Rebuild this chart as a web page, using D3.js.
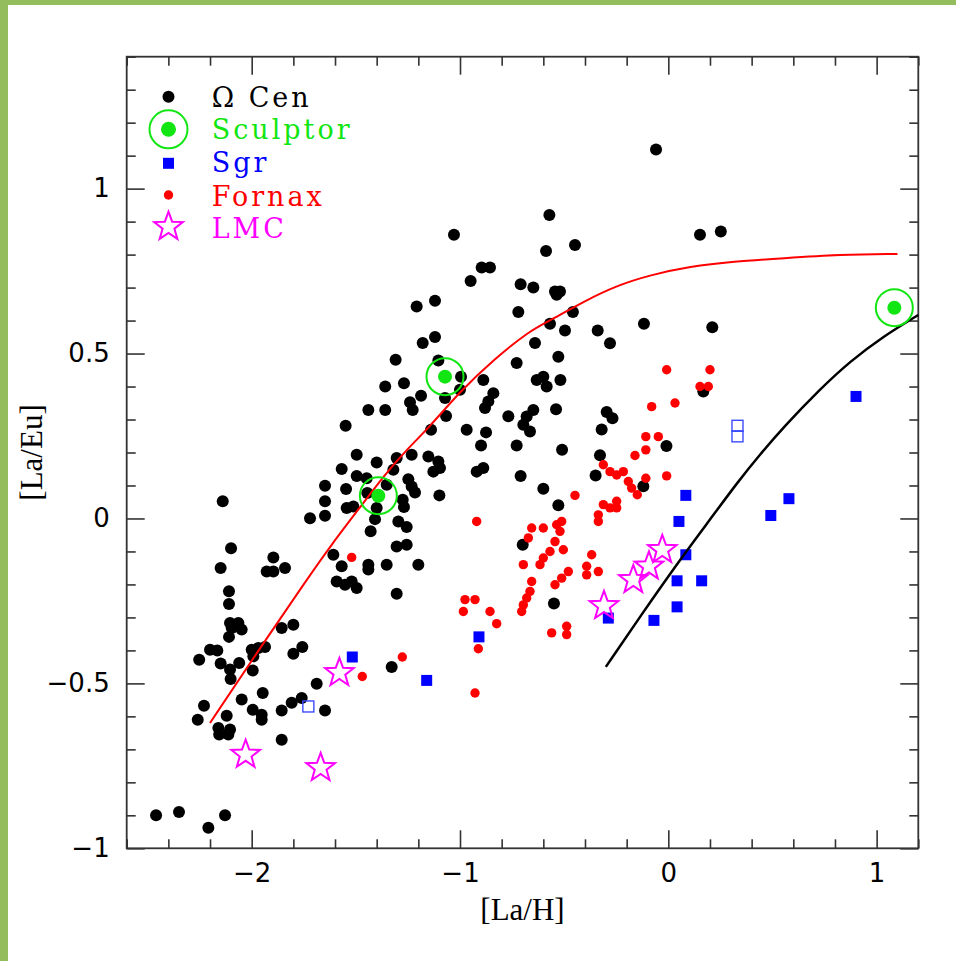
<!DOCTYPE html>
<html>
<head>
<meta charset="utf-8">
<script src="https://cdn.jsdelivr.net/npm/d3@7"></script>
<style>
  html, body { margin: 0; padding: 0; background: #fff; }
  svg { display: block; }
</style>
</head>
<body>
<svg id="chart" width="956" height="961"></svg>
<script>
// ---- data: [La/H], [La/Eu] ----
const omegaCen = [
  [-0.059,1.119],[-1.029,0.860],[-0.571,0.920],[0.152,0.860],[0.252,0.870],[-0.448,0.829],[-0.587,0.811],[-0.896,0.761],[-0.856,0.761],[-0.949,0.720],
  [-0.709,0.710],[-0.648,0.700],[-0.544,0.688],[-0.520,0.688],[-0.536,0.678],[-1.120,0.660],[-1.208,0.643],[-0.720,0.626],[-0.458,0.626],[-0.568,0.590],
  [-0.496,0.570],[-0.339,0.570],[-0.117,0.590],[0.211,0.580],[-0.280,0.531],[-1.120,0.550],[-1.179,0.532],[-0.640,0.532],[-0.528,0.490],[-1.309,0.481],
  [-1.104,0.479],[-0.728,0.471],[-0.995,0.430],[-1.000,0.390],[-0.888,0.420],[-0.840,0.380],[-0.864,0.355],[-0.880,0.335],[-0.632,0.420],[-0.600,0.430],
  [-0.584,0.400],[-0.518,0.420],[-1.269,0.410],[-1.359,0.400],[-1.187,0.372],[-1.240,0.352],[-1.227,0.329],[-1.440,0.329],[-1.359,0.329],[-1.072,0.365],
  [-1.067,0.311],[-0.768,0.310],[-0.539,0.331],[-0.680,0.309],[-0.648,0.329],[-0.696,0.284],[-0.664,0.264],[-0.296,0.323],[-0.268,0.304],[-0.320,0.270],
  [0.168,0.385],[-1.549,0.281],[-1.139,0.269],[-0.968,0.269],[-0.875,0.261],[-0.899,0.221],[-0.728,0.221],[-0.510,0.208],[-0.009,0.220],[-0.328,0.192],
  [-1.496,0.193],[-1.400,0.170],[-1.304,0.183],[-1.232,0.193],[-1.152,0.188],[-1.104,0.173],[-1.096,0.153],[-1.128,0.142],[-1.568,0.150],[-1.496,0.129],
  [-1.320,0.148],[-1.448,0.122],[-0.920,0.142],[-0.888,0.153],[-0.709,0.129],[-0.349,0.130],[-0.120,0.098],[-1.648,0.099],[-1.547,0.089],[-1.352,0.102],
  [-1.445,0.077],[-1.248,0.119],[-1.232,0.097],[-1.216,0.079],[-1.099,0.070],[-0.600,0.090],[-0.528,0.040],[-1.275,0.057],[-1.269,0.035],[-1.648,0.052],
  [-1.544,0.032],[-1.512,0.036],[-1.400,0.032],[-1.648,0.008],[-1.720,0.001],[-1.408,-0.002],[-1.296,-0.009],[-1.256,-0.026],[-1.429,-0.039],[-2.139,0.052],
  [-1.304,-0.085],[-1.256,-0.080],[-2.099,-0.090],[-0.699,-0.080],[-1.896,-0.118],[-1.608,-0.110],[-2.149,-0.150],[-1.928,-0.161],[-1.896,-0.161],[-1.840,-0.150],
  [-1.568,-0.145],[-1.440,-0.140],[-1.440,-0.155],[-1.352,-0.140],[-1.200,-0.140],[-1.592,-0.191],[-1.552,-0.201],[-1.520,-0.191],[-1.496,-0.211],[-1.304,-0.228],
  [-0.549,-0.258],[-2.109,-0.221],[-2.109,-0.259],[-2.104,-0.317],[-2.064,-0.317],[-2.096,-0.332],[-2.048,-0.337],[-2.109,-0.359],[-1.856,-0.332],[-1.800,-0.322],
  [-2.200,-0.398],[-2.165,-0.400],[-2.000,-0.398],[-1.968,-0.393],[-1.936,-0.390],[-2.252,-0.428],[-2.149,-0.440],[-2.060,-0.438],[-2.104,-0.458],[-1.992,-0.418],
  [-1.995,-0.461],[-2.101,-0.487],[-1.800,-0.410],[-1.757,-0.390],[-1.688,-0.501],[-1.328,-0.450],[-2.048,-0.549],[-1.947,-0.529],[-2.229,-0.568],[-1.995,-0.580],
  [-1.952,-0.595],[-1.952,-0.610],[-1.856,-0.582],[-1.808,-0.559],[-1.760,-0.544],[-1.648,-0.582],[-2.120,-0.598],[-2.259,-0.610],[-2.160,-0.635],[-2.104,-0.640],
  [-2.156,-0.655],[-2.112,-0.655],[-1.856,-0.671],[-2.459,-0.900],[-2.349,-0.890],[-2.208,-0.938],[-2.128,-0.900]
];

const sculptor = [[-1.392,0.069],[-1.072,0.430],[1.085,0.639]];

const sgr = [
  [-1.517,-0.420],[-1.160,-0.491],[-0.909,-0.359],[-0.288,-0.302],[-0.069,-0.309],[0.042,-0.268],[0.042,-0.189],
  [0.160,-0.189],[0.084,-0.110],[0.051,-0.009],[0.084,0.070],[0.492,0.009],[0.579,0.060],[0.901,0.370]
];
// Sgr stars plotted with open symbols
const sgrOpen = [[-1.728,-0.570],[0.332,0.281],[0.332,0.249]];

const fornax = [
  [-1.520,-0.118],[-1.469,-0.479],[-1.277,-0.420],[-0.920,-0.009],[-0.976,-0.246],[-0.928,-0.246],[-0.984,-0.282],[-0.856,-0.282],
  [-0.824,-0.319],[-0.912,-0.395],[-0.928,-0.529],[-0.656,-0.029],[-0.600,-0.029],[-0.672,-0.059],[-0.536,-0.019],[-0.512,-0.009],
  [-0.520,-0.039],[-0.544,-0.070],[-0.568,-0.100],[-0.504,-0.095],[-0.600,-0.120],[-0.616,-0.140],[-0.696,-0.140],[-0.368,-0.110],
  [-0.392,-0.145],[-0.392,-0.171],[-0.336,-0.161],[-0.480,-0.161],[-0.512,-0.181],[-0.544,-0.201],[-0.656,-0.191],[-0.664,-0.221],
  [-0.680,-0.241],[-0.696,-0.262],[-0.704,-0.282],[-0.560,-0.347],[-0.488,-0.327],[-0.488,-0.352],[-0.008,0.451],[0.200,0.451],
  [0.152,0.400],[0.192,0.400],[-0.080,0.339],[0.032,0.350],[-0.108,0.248],[-0.048,0.248],[-0.108,0.208],[-0.160,0.191],
  [-0.312,0.163],[-0.280,0.142],[-0.248,0.132],[-0.216,0.142],[-0.192,0.112],[-0.176,0.092],[-0.149,0.072],[-0.108,0.122],
  [-0.008,0.129],[-0.448,0.070],[-0.312,0.042],[-0.248,0.052],[-0.280,0.032],[-0.248,0.032],[-0.336,0.011],[-0.336,-0.009]
];

const lmc = [[-2.029,-0.716],[-1.669,-0.756],[-1.579,-0.468],[-0.309,-0.265],[-0.168,-0.186],[-0.093,-0.145],[-0.029,-0.095]];

// model curves
const redModel = [
  [-2.2,-0.62],[-1.944,-0.378],[-1.736,-0.186],[-1.624,-0.085],[-1.464,0.047],[-1.368,0.127],[-1.272,0.198],[-1.144,0.279],
  [-1.0,0.385],[-0.84,0.481],[-0.664,0.57],[-0.568,0.6],[-0.4,0.66],[-0.248,0.706],[-0.088,0.738],[0.104,0.764],
  [0.312,0.779],[0.552,0.789],[0.824,0.8],[1.1,0.802]
];
const blackModel = [
  [-0.3,-0.45],[-0.135,-0.297],[0.056,-0.125],[0.21,0.005],[0.33,0.108],[0.444,0.197],[0.552,0.276],[0.728,0.392],
  [0.872,0.476],[1.032,0.552],[1.2,0.617]
];

const seriesNames = ["\u03A9 Cen", "Sculptor", "Sgr", "Fornax", "LMC"];
const xMajorTicks = [-2, -1, 0, 1];
const xTickLabels = ["\u22122", "\u22121", "0", "1"];
const yMajorTicks = [1, 0.5, 0, -0.5, -1];
const yTickLabels = ["1", "0.5", "0", "\u22120.5", "\u22121"];
const xTitle = "[La/H]";
const yTitle = "[La/Eu]";

// ---- layout ----
const svg = d3.select("#chart");
const plotLeft = 126.7, plotRight = 918.3, plotTop = 56.7, plotBottom = 848.3;
const x = d3.scaleLinear().domain([-2.6, 1.2]).range([plotLeft, plotRight]);
const y = d3.scaleLinear().domain([-1, 1.4]).range([plotBottom, plotTop]);

const GREEN = "#12e612", BLUE = "#0000ff", RED = "#ff0000", MAG = "#ff00ff";

svg.append("rect").attr("width", 956).attr("height", 961).attr("fill", "#fff");
svg.append("rect").attr("x", 0).attr("y", 0).attr("width", 956).attr("height", 5).attr("fill", "#94bd5e");
svg.append("rect").attr("x", 0).attr("y", 0).attr("width", 8).attr("height", 961).attr("fill", "#94bd5e");

// ---- axes (ticks point inward on all four sides) ----
const xMinor = d3.range(-2.6, 1.2001, 0.2).map(v => +v.toFixed(2)).filter(v => !xMajorTicks.some(m => Math.abs(m - v) < 1e-6));
const yMinor = d3.range(-1, 1.4001, 0.1).map(v => +v.toFixed(2)).filter(v => !yMajorTicks.some(m => Math.abs(m - v) < 1e-6));

function styleAxis(g) {
  g.select(".domain").remove();
  g.selectAll(".tick line").attr("stroke", "#333").attr("stroke-width", 1.6);
  g.selectAll("text").attr("fill", "#000").attr("font-family", "DejaVu Sans").attr("font-size", 26);
}

const gx = svg.append("g").attr("transform", `translate(0,${plotBottom})`)
  .call(d3.axisBottom(x).tickValues(xMajorTicks).tickSize(-18).tickPadding(15)
        .tickFormat((d, i) => xTickLabels[i]));
styleAxis(gx);
styleAxis(svg.append("g").attr("transform", `translate(0,${plotBottom})`)
  .call(d3.axisBottom(x).tickValues(xMinor).tickSize(-9).tickFormat("")));
styleAxis(svg.append("g").attr("transform", `translate(0,${plotTop})`)
  .call(d3.axisTop(x).tickValues(xMajorTicks).tickSize(-18).tickFormat("")));
styleAxis(svg.append("g").attr("transform", `translate(0,${plotTop})`)
  .call(d3.axisTop(x).tickValues(xMinor).tickSize(-9).tickFormat("")));

const gy = svg.append("g").attr("transform", `translate(${plotLeft},0)`)
  .call(d3.axisLeft(y).tickValues(yMajorTicks).tickSize(-18).tickPadding(17)
        .tickFormat((d, i) => yTickLabels[i]));
styleAxis(gy);
styleAxis(svg.append("g").attr("transform", `translate(${plotLeft},0)`)
  .call(d3.axisLeft(y).tickValues(yMinor).tickSize(-9).tickFormat("")));
styleAxis(svg.append("g").attr("transform", `translate(${plotRight},0)`)
  .call(d3.axisRight(y).tickValues(yMajorTicks).tickSize(-18).tickFormat("")));
styleAxis(svg.append("g").attr("transform", `translate(${plotRight},0)`)
  .call(d3.axisRight(y).tickValues(yMinor).tickSize(-9).tickFormat("")));

svg.append("rect").attr("x", plotLeft).attr("y", plotTop)
  .attr("width", plotRight - plotLeft).attr("height", plotBottom - plotTop)
  .attr("fill", "none").attr("stroke", "#333").attr("stroke-width", 1.8);

// axis titles
svg.append("text").attr("x", (plotLeft + plotRight) / 2).attr("y", 920).attr("text-anchor", "middle")
  .attr("font-family", "Liberation Serif").attr("font-size", 31).attr("fill", "#000").text(xTitle);
svg.append("text").attr("transform", `translate(42,${(plotTop + plotBottom) / 2}) rotate(-90)`)
  .attr("text-anchor", "middle")
  .attr("font-family", "Liberation Serif").attr("font-size", 31).attr("fill", "#000").text(yTitle);

// ---- marks ----
const plot = svg.append("g");

function starPath(cx, cy, R, r) {
  const pts = d3.range(10).map(i => {
    const a = -Math.PI / 2 + i * Math.PI / 5;
    const rad = i % 2 === 0 ? R : r;
    return [cx + rad * Math.cos(a), cy + rad * Math.sin(a)];
  });
  return d3.line()(pts) + "Z";
}

plot.selectAll("circle.omega").data(omegaCen).join("circle").attr("class", "omega")
  .attr("cx", d => x(d[0])).attr("cy", d => y(d[1])).attr("r", 6).attr("fill", "#000");

plot.selectAll("circle.fornax").data(fornax).join("circle").attr("class", "fornax")
  .attr("cx", d => x(d[0])).attr("cy", d => y(d[1])).attr("r", 4.7).attr("fill", RED);

plot.selectAll("rect.sgr").data(sgr).join("rect").attr("class", "sgr")
  .attr("x", d => x(d[0]) - 5.5).attr("y", d => y(d[1]) - 5.5)
  .attr("width", 11).attr("height", 11).attr("fill", BLUE);

plot.selectAll("rect.sgrOpen").data(sgrOpen).join("rect").attr("class", "sgrOpen")
  .attr("x", d => x(d[0]) - 5.5).attr("y", d => y(d[1]) - 5.5).attr("width", 11).attr("height", 11)
  .attr("fill", "none").attr("stroke", "#3b4cff").attr("stroke-width", 1.4);

const line = d3.line().x(d => x(d[0])).y(d => y(d[1])).curve(d3.curveBasis);
plot.append("path").datum(redModel).attr("d", line)
  .attr("fill", "none").attr("stroke", RED).attr("stroke-width", 2);
plot.append("path").datum(blackModel).attr("d", line)
  .attr("fill", "none").attr("stroke", "#000").attr("stroke-width", 2.5);

const sc = plot.selectAll("g.sculptor").data(sculptor).join("g").attr("class", "sculptor");
sc.append("circle").attr("cx", d => x(d[0])).attr("cy", d => y(d[1])).attr("r", 18.5)
  .attr("fill", "none").attr("stroke", GREEN).attr("stroke-width", 2);
sc.append("circle").attr("cx", d => x(d[0])).attr("cy", d => y(d[1])).attr("r", 7).attr("fill", GREEN);

plot.selectAll("path.lmc").data(lmc).join("path").attr("class", "lmc")
  .attr("d", d => starPath(x(d[0]), y(d[1]), 15, 6.2))
  .attr("fill", "none").attr("stroke", MAG).attr("stroke-width", 2);

// ---- legend ----
const legendColors = ["#000", GREEN, BLUE, RED, MAG];
const lgX = 168.5, txX = 211.7;
const markY = [96.7, 129.3, 163.3, 195, 226.7];
const textY = [106.7, 139.3, 171.7, 205.7, 238.3];
const lg = svg.append("g");
lg.append("circle").attr("cx", lgX).attr("cy", markY[0]).attr("r", 6).attr("fill", "#000");
lg.append("circle").attr("cx", lgX).attr("cy", markY[1]).attr("r", 19)
  .attr("fill", "none").attr("stroke", GREEN).attr("stroke-width", 2);
lg.append("circle").attr("cx", lgX).attr("cy", markY[1]).attr("r", 7.5).attr("fill", GREEN);
lg.append("rect").attr("x", lgX - 5.5).attr("y", markY[2] - 5.5).attr("width", 11).attr("height", 11).attr("fill", BLUE);
lg.append("circle").attr("cx", lgX).attr("cy", markY[3]).attr("r", 4.7).attr("fill", RED);
lg.append("path").attr("d", starPath(lgX, markY[4], 15, 6.2))
  .attr("fill", "none").attr("stroke", MAG).attr("stroke-width", 2);

lg.selectAll("text").data(seriesNames).join("text")
  .attr("x", txX).attr("y", (d, i) => textY[i])
  .attr("font-family", "DejaVu Serif").attr("font-size", 27).attr("letter-spacing", 3)
  .attr("fill", (d, i) => legendColors[i]).text(d => d);
</script>
</body>
</html>
